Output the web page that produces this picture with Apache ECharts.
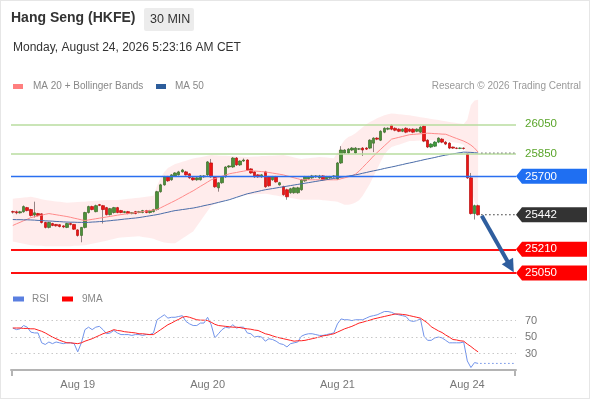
<!DOCTYPE html>
<html><head><meta charset="utf-8">
<script src="https://cdn.jsdelivr.net/npm/echarts/dist/echarts.min.js"></script>
<style>
html,body{margin:0;padding:0;background:#fff;}
#frame{position:absolute;left:0;top:0;width:588px;height:397px;border:1px solid #e6e6e6;}
#chart{position:absolute;left:0;top:0;width:590px;height:400px;}
</style></head><body>
<div id="frame"></div>
<div id="chart"></div>
<script>
const N_SLOTS = 140;
const categories = Array.from({length: N_SLOTS}, (_, i) => 'c' + i);
const dayLabels = ['Aug 19', 'Aug 20', 'Aug 21', 'Aug 24'];
const dayLabelIdx = [18, 54, 90, 126];

const opens = [
25463,25462,25455,25462,25490,25477,25440,25450,25448,25390,
25357,25383,25377,25375,25367,25357,25383,25377,25340,25303,
25357,25457,25497,25463,25510,25503,25490,25443,25457,25490,
25470,25457,25463,25450,25463,25457,25457,25470,25457,25463,
25477,25597,25643,25697,25677,25703,25710,25730,25730,25717,
25690,25677,25677,25697,25710,25790,25697,25623,25657,25697,
25763,25763,25823,25777,25803,25810,25750,25730,25710,25697,
25730,25697,25677,25697,25643,25630,25610,25590,25590,25590,
25610,25670,25683,25690,25697,25690,25703,25683,25690,25697,
25683,25790,25857,25857,25877,25857,25883,25890,25890,25890,
25923,25957,25943,25997,26017,26043,26023,26017,26003,26023,
26017,26017,26003,25997,26037,25943,25897,25903,25930,25950,
25930,25923,25897,25890,25888,25890,25850,25690,25450,25503];
const closes = [
25460,25455,25462,25497,25470,25437,25455,25437,25390,25357,
25390,25370,25368,25363,25360,25383,25377,25345,25303,25357,
25457,25497,25477,25503,25505,25477,25443,25483,25490,25457,
25457,25463,25450,25457,25450,25463,25470,25457,25470,25477,
25597,25643,25697,25670,25710,25723,25730,25743,25710,25690,
25677,25690,25703,25703,25797,25697,25630,25657,25697,25763,
25770,25823,25777,25803,25810,25743,25723,25697,25697,25710,
25630,25637,25697,25663,25657,25577,25563,25617,25623,25623,
25677,25697,25697,25703,25703,25703,25677,25697,25697,25703,
25790,25877,25877,25883,25890,25890,25885,25877,25883,25943,
25957,25950,26003,26023,26023,26017,26010,26003,26017,25997,
26003,25997,26017,26030,25937,25897,25917,25930,25957,25930,
25917,25890,25890,25888,25890,25887,25690,25450,25503,25442];
const lows = [
25450,25445,25450,25455,25465,25430,25423,25430,25383,25350,
25350,25365,25362,25357,25352,25352,25370,25340,25295,25257,
25350,25450,25472,25458,25500,25383,25437,25437,25450,25452,
25452,25452,25445,25445,25445,25452,25452,25452,25450,25457,
25470,25590,25637,25663,25670,25697,25705,25725,25705,25683,
25670,25670,25672,25690,25703,25690,25623,25597,25650,25690,
25755,25757,25770,25770,25797,25737,25717,25690,25690,25690,
25623,25630,25670,25657,25637,25570,25543,25583,25583,25583,
25603,25663,25677,25683,25690,25683,25670,25677,25683,25690,
25677,25783,25850,25850,25870,25850,25877,25837,25877,25883,
25863,25943,25937,25990,26010,26010,26003,25997,25997,25990,
25997,25990,25997,25990,25930,25890,25890,25897,25923,25923,
25910,25883,25885,25883,25883,25880,25683,25443,25410,25437];
const highs = [
25470,25470,25468,25505,25495,25482,25530,25455,25452,25395,
25395,25388,25380,25378,25372,25388,25390,25380,25345,25360,
25462,25503,25503,25510,25515,25508,25495,25488,25495,25495,
25475,25468,25468,25460,25468,25468,25475,25475,25475,25482,
25603,25650,25703,25703,25715,25728,25737,25750,25737,25722,
25695,25695,25708,25708,25803,25817,25700,25660,25700,25768,
25775,25830,25830,25808,25820,25815,25755,25735,25715,25715,
25737,25703,25703,25703,25663,25637,25617,25623,25630,25630,
25683,25703,25703,25710,25708,25710,25708,25703,25703,25708,
25797,25903,25883,25890,25897,25897,25890,25897,25897,25950,
25963,25963,26010,26030,26030,26050,26030,26023,26023,26030,
26023,26023,26023,26037,26043,25950,25923,25937,25963,25957,
25937,25930,25900,25895,25895,25895,25855,25723,25510,25510];

const ma20 = [
25370,25381,25391,25402,25412,25423,25428,25434,25439,25445,
25450,25446,25442,25438,25434,25430,25425,25419,25414,25408,
25403,25407,25411,25415,25419,25423,25427,25431,25435,25439,
25443,25446,25450,25453,25457,25460,25463,25467,25470,25474,
25477,25489,25501,25513,25525,25537,25550,25563,25577,25590,
25603,25618,25633,25647,25662,25677,25685,25693,25701,25709,
25717,25722,25726,25731,25735,25740,25738,25736,25734,25732,
25730,25726,25722,25718,25714,25710,25703,25697,25690,25684,
25677,25677,25677,25677,25677,25677,25677,25677,25677,25677,
25677,25684,25690,25697,25703,25715,25735,25760,25785,25810,
25837,25860,25882,25905,25927,25950,25956,25962,25968,25974,
25980,25982,25984,25986,25988,25990,25989,25987,25986,25984,
25983,25974,25964,25955,25946,25937,25925,25910,25890,25863];
const bbUpper = [
25550,25553,25555,25558,25560,25563,25558,25553,25547,25542,
25537,25534,25531,25529,25526,25523,25524,25526,25527,25529,
25530,25532,25534,25536,25538,25540,25541,25541,25542,25542,
25543,25546,25549,25551,25554,25557,25560,25563,25566,25570,
25637,25690,25730,25757,25770,25783,25790,25798,25805,25813,
25820,25825,25829,25834,25838,25843,25842,25841,25839,25838,
25837,25836,25834,25833,25831,25830,25831,25833,25834,25836,
25837,25838,25839,25841,25842,25843,25838,25833,25827,25822,
25817,25820,25822,25825,25827,25830,25828,25826,25824,25822,
25860,25910,25945,25965,25975,25990,26010,26030,26050,26065,
26077,26090,26100,26110,26118,26123,26120,26118,26115,26113,
26110,26106,26102,26098,26094,26090,26086,26082,26078,26074,
26070,26066,26062,26058,26055,26052,26080,26180,26210,26215];
const bbLower = [
25263,25258,25253,25247,25242,25237,25236,25234,25233,25231,
25230,25230,25230,25230,25230,25230,25231,25233,25234,25236,
25237,25242,25247,25253,25258,25263,25268,25274,25279,25285,
25290,25291,25293,25294,25296,25297,25293,25289,25285,25281,
25270,25262,25256,25252,25250,25250,25266,25282,25298,25314,
25330,25365,25399,25434,25468,25503,25512,25522,25531,25541,
25550,25555,25561,25566,25572,25577,25578,25579,25581,25582,
25583,25579,25575,25571,25567,25563,25559,25555,25551,25547,
25543,25543,25543,25543,25543,25543,25540,25538,25535,25533,
25530,25520,25510,25510,25515,25525,25540,25570,25610,25650,
25700,25750,25800,25845,25875,25897,25905,25913,25921,25929,
25937,25938,25939,25941,25942,25943,25942,25941,25939,25938,
25937,25934,25930,25926,25920,25910,25830,25620,25530,25490];
const ma50 = [
25410,25409,25409,25408,25408,25407,25406,25404,25403,25401,
25400,25399,25397,25396,25394,25393,25392,25392,25391,25391,
25390,25391,25393,25394,25396,25397,25400,25402,25405,25407,
25410,25413,25415,25418,25420,25423,25427,25431,25435,25439,
25443,25448,25454,25459,25465,25470,25473,25477,25480,25484,
25487,25492,25497,25503,25508,25513,25519,25525,25531,25537,
25543,25551,25559,25567,25575,25583,25588,25594,25599,25605,
25610,25614,25618,25622,25626,25630,25634,25638,25642,25646,
25650,25654,25658,25662,25666,25670,25674,25678,25682,25686,
25690,25694,25698,25702,25706,25710,25715,25721,25726,25732,
25737,25742,25747,25753,25758,25763,25768,25774,25779,25785,
25790,25795,25801,25806,25812,25817,25822,25827,25833,25838,
25843,25847,25851,25855,25859,25863,25862,25861,25859,25857];

const rsi = [
61,59,60,64,62,56,55,55,43,41,
44,42,44,43,42,43,43,42,32,43,
59,62,59,62,63,59,54,55,58,55,
53,53,53,52,53,53,52,53,53,55,
71,74,77,73,74,74,75,76,69,66,
64,64,67,67,74,65,49,54,59,62,
61,65,61,62,62,55,54,50,51,50,
45,48,47,45,42,41,38,42,43,44,
51,53,54,54,53,52,52,53,54,55,
66,72,71,71,70,71,71,71,73,75,
76,77,79,81,81,80,78,77,76,75,
70,69,70,72,51,46,46,49,50,49,
46,43,43,43,43,44,21,13,19,18];
const rsiMa = [
61,61,61,60.5,60.5,60,60,58.5,57,55,
52.5,50,48,46,44.5,43,43,42.5,42,43,
45,46.5,48,50,52,54,55.5,57,59,58,
57.5,56.5,56,55.5,55,54,54,53.5,53,53,
56,59,62,65,67,69.5,71.5,74,75,74,
72.5,71,70.5,70.5,70,68,65.5,64,63.5,63,
62.5,62,62,61.5,60.5,60,59.5,58.5,58,56,
54,53,51.5,50,49,48,47,46,45,45.5,
45.5,46,47,48,49,50,51.5,52,53,54,
56,58,60,61.5,63,65,67,68,69.5,70.5,
72,73,74,75,76,77,78,78,77.5,77,
76,75,74,73,70,67,62.5,60,57.5,55.5,
52.5,50,47,46.5,45.5,45,41.5,38.5,35,32];

const resistanceLevels = [26050, 25850];
const pivotLevel = 25700;
const supportLevels = [25210, 25050];
const rsiGridLevels = [70, 50, 30];
const arrowFrom = [129.9, 25436];
const arrowTo = [137.8, 25093];

const FONT = 'Liberation Sans, Arial, sans-serif';
const last = closes.length - 1;
const wickData = opens.map((o, i) => [o, closes[i], lows[i], highs[i]]);
const bodyData = opens.map((o, i) => [o, closes[i], Math.min(o, closes[i]), Math.max(o, closes[i])]);
const bandSpan = bbUpper.map((u, i) => u - bbLower[i]);

const priceTags = [
  {v: resistanceLevels[0], kind: 'text', color: '#5aa52a'},
  {v: resistanceLevels[1], kind: 'text', color: '#5aa52a'},
  {v: ma50[last], kind: 'proj', color: '#777777'},
  {v: pivotLevel, kind: 'tag', color: '#1f6ff2'},
  {v: closes[last], kind: 'tagproj', color: '#333333'},
  {v: supportLevels[0], kind: 'tag', color: '#ff0000'},
  {v: supportLevels[1], kind: 'tag', color: '#ff0000'}
];

const chart = echarts.init(document.getElementById('chart'), null, {renderer: 'canvas'});

function renderPriceTag(params, api) {
  const t = priceTags[api.value(2)];
  const y = api.coord([0, api.value(1)])[1];
  const cs = params.coordSys;
  const x0 = cs.x + cs.width;
  const xl = api.coord([last, api.value(1)])[0] + 3;
  const children = [];
  if (t.kind === 'proj' || t.kind === 'tagproj') {
    children.push({type: 'line', shape: {x1: xl, y1: y, x2: x0, y2: y},
      style: {stroke: t.color, lineWidth: 1, lineDash: [1.5, 2.5]}});
  }
  if (t.kind === 'text') {
    children.push({type: 'text', style: {x: x0 + 9, y: y, text: String(t.v), fill: t.color,
      fontSize: 11.5, fontFamily: FONT, verticalAlign: 'middle', align: 'left'}});
  }
  if (t.kind === 'tag' || t.kind === 'tagproj') {
    children.push({type: 'polygon', shape: {points: [[x0, y], [x0 + 6, y - 7.5], [x0 + 71, y - 7.5], [x0 + 71, y + 7.5], [x0 + 6, y + 7.5]]},
      style: {fill: t.color}});
    children.push({type: 'text', style: {x: x0 + 9, y: y, text: String(t.v), fill: '#ffffff',
      fontSize: 11.5, fontFamily: FONT, verticalAlign: 'middle', align: 'left'}});
  }
  return {type: 'group', children: children};
}

function renderRsiProj(params, api) {
  const p = api.coord([api.value(0), api.value(1)]);
  const cs = params.coordSys;
  return {type: 'line', shape: {x1: p[0] + 2, y1: p[1], x2: cs.x + cs.width, y2: p[1]},
    style: {stroke: '#6b8ee6', lineWidth: 1, lineDash: [1.5, 2.5]}};
}

const hLine = (v, color, width) => ({yAxis: v, lineStyle: {color: color, width: width, type: 'solid'}});

const option = {
  animation: false,
  textStyle: {fontFamily: FONT},
  grid: [
    {left: 11, width: 505, top: 96, height: 189, containLabel: false, outerBoundsMode: 'none'},
    {left: 11, width: 505, top: 300, height: 70, containLabel: false, outerBoundsMode: 'none'}
  ],
  xAxis: [
    {type: 'category', gridIndex: 0, data: categories, boundaryGap: true, show: false},
    {type: 'category', gridIndex: 1, data: categories, boundaryGap: true,
      axisLine: {show: true, lineStyle: {color: '#b4b4b4', width: 2}},
      axisTick: {show: false},
      axisLabel: {
        interval: (idx) => dayLabelIdx.indexOf(idx) >= 0,
        formatter: (val, idx) => { const k = dayLabelIdx.indexOf(idx); return k >= 0 ? dayLabels[k] : ''; },
        color: '#777', fontSize: 11, margin: 9, fontFamily: FONT
      },
      splitLine: {show: false}}
  ],
  yAxis: [
    {type: 'value', gridIndex: 0, min: 24970, max: 26240, show: false, splitLine: {show: false}},
    {type: 'value', gridIndex: 1, min: 10, max: 95, show: false, splitLine: {show: false}}
  ],
  graphic: [
    {type: 'text', left: 11, top: 11, style: {text: 'Hang Seng (HKFE)', fill: '#333', font: 'bold 14px ' + FONT}},
    {type: 'rect', left: 144, top: 8, shape: {width: 50, height: 23, r: 2}, style: {fill: '#ececec'}},
    {type: 'text', left: 150, top: 13.5, style: {text: '30 MIN', fill: '#333', font: '12.5px ' + FONT}},
    {type: 'text', left: 13, top: 42, style: {text: 'Monday, August 24, 2026 5:23:16 AM CET', fill: '#333', font: '12px ' + FONT}},
    {type: 'rect', left: 13, top: 84, shape: {width: 10, height: 5}, style: {fill: '#ff7f7f'}},
    {type: 'text', left: 33, top: 81, style: {text: 'MA 20 + Bollinger Bands', fill: '#888', font: '10px ' + FONT}},
    {type: 'rect', left: 156, top: 84, shape: {width: 10, height: 5}, style: {fill: '#2d5d9b'}},
    {type: 'text', left: 175, top: 81, style: {text: 'MA 50', fill: '#888', font: '10px ' + FONT}},
    {type: 'text', right: 9, top: 81, style: {text: 'Research \u00a9 2026 Trading Central', fill: '#999', font: '10px ' + FONT}},
    {type: 'rect', left: 13, top: 296.5, shape: {width: 11, height: 5}, style: {fill: '#5a7fe0'}},
    {type: 'text', left: 32, top: 294, style: {text: 'RSI', fill: '#888', font: '10px ' + FONT}},
    {type: 'rect', left: 62, top: 296.5, shape: {width: 11, height: 5}, style: {fill: '#ff0000'}},
    {type: 'text', left: 82, top: 294, style: {text: '9MA', fill: '#888', font: '10px ' + FONT}},
    {type: 'line', shape: {x1: 12, y1: 370, x2: 12, y2: 376}, style: {stroke: '#b4b4b4', lineWidth: 2}},
    {type: 'line', shape: {x1: 515, y1: 370, x2: 515, y2: 376}, style: {stroke: '#b4b4b4', lineWidth: 2}}
  ],
  series: [
    {name: 'bbLower', type: 'line', xAxisIndex: 0, yAxisIndex: 0, data: bbLower, stack: 'bb',
      symbol: 'none', lineStyle: {opacity: 0}, silent: true},
    {name: 'bbSpan', type: 'line', xAxisIndex: 0, yAxisIndex: 0, data: bandSpan, stack: 'bb',
      symbol: 'none', lineStyle: {opacity: 0}, areaStyle: {color: 'rgba(255,40,40,0.12)'}, silent: true},
    {name: 'MA 20 + Bollinger Bands', type: 'line', xAxisIndex: 0, yAxisIndex: 0, data: ma20,
      symbol: 'none', lineStyle: {color: '#ff8a8a', width: 1}, silent: true},
    {name: 'MA 50', type: 'line', xAxisIndex: 0, yAxisIndex: 0, data: ma50,
      symbol: 'none', lineStyle: {color: '#4a6ca8', width: 1}, silent: true},
    {name: 'levels', type: 'line', xAxisIndex: 0, yAxisIndex: 0, data: [], silent: true,
      markLine: {silent: true, symbol: ['none', 'none'], label: {show: false},
        data: [
          hLine(resistanceLevels[0], '#b9dd9f', 1.5),
          hLine(resistanceLevels[1], '#b9dd9f', 1.5),
          hLine(pivotLevel, '#2a6ff0', 1.3),
          hLine(supportLevels[0], '#ff1010', 2),
          hLine(supportLevels[1], '#ff1010', 2)
        ]}},
    {name: 'wicks', type: 'candlestick', xAxisIndex: 0, yAxisIndex: 0, data: wickData, barWidth: 1,
      silent: true,
      itemStyle: {color: '#8c8c8c', color0: '#8c8c8c', borderColor: '#8c8c8c', borderColor0: '#8c8c8c', borderWidth: 1}},
    {name: 'bodies', type: 'candlestick', xAxisIndex: 0, yAxisIndex: 0, data: bodyData, barWidth: 3,
      silent: true,
      itemStyle: {color: '#3c9c3c', color0: '#ec1414', borderColor: '#2a742a', borderColor0: '#b80c0c', borderWidth: 0.7},
      markLine: {silent: true, symbol: ['none', 'triangle'], symbolSize: [13, 13], label: {show: false},
        lineStyle: {color: '#2f5e9e', width: 4, type: 'solid'},
        data: [[{coord: arrowFrom}, {coord: arrowTo}]]}},
    {name: 'tags', type: 'custom', xAxisIndex: 0, yAxisIndex: 0, clip: false, silent: true,
      data: priceTags.map((t, i) => [0, t.v, i]), encode: {x: 0, y: 1}, renderItem: renderPriceTag, z: 10},
    {name: 'rsiGrid', type: 'line', xAxisIndex: 1, yAxisIndex: 1, data: [], silent: true,
      markLine: {silent: true, symbol: ['none', 'none'],
        label: {show: true, position: 'end', distance: 9, color: '#777', fontSize: 11, fontFamily: FONT,
          formatter: (p) => String(p.value)},
        lineStyle: {color: '#c8c8c8', width: 1, type: [1.5, 3]},
        data: rsiGridLevels.map(v => ({yAxis: v}))}},
    {name: 'RSI', type: 'line', xAxisIndex: 1, yAxisIndex: 1, data: rsi, symbol: 'none',
      lineStyle: {color: '#7193ea', width: 1}, silent: true},
    {name: '9MA', type: 'line', xAxisIndex: 1, yAxisIndex: 1, data: rsiMa, symbol: 'none',
      lineStyle: {color: '#ff2020', width: 1}, silent: true},
    {name: 'rsiProj', type: 'custom', xAxisIndex: 1, yAxisIndex: 1, clip: false, silent: true,
      data: [[last, rsi[last]]], encode: {x: 0, y: 1}, renderItem: renderRsiProj}
  ]
};
chart.setOption(option);
</script></body></html>
